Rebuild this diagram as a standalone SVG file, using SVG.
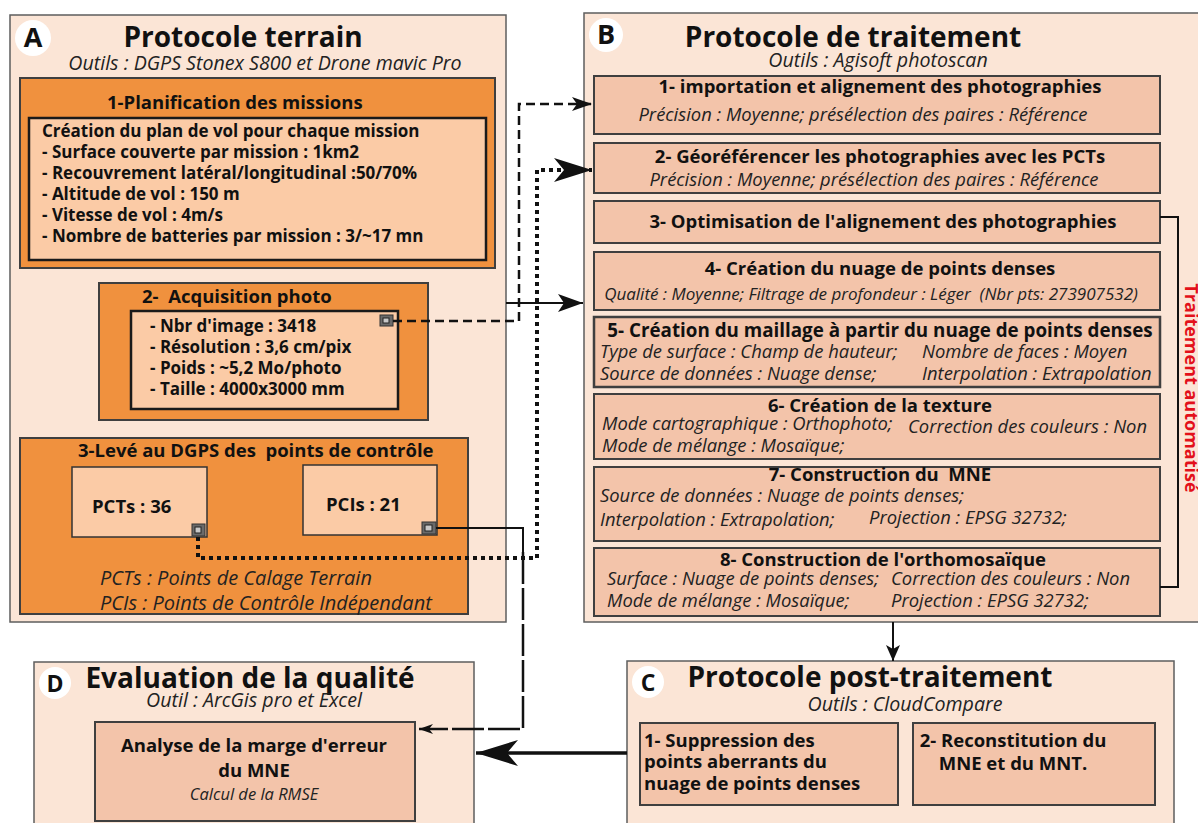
<svg xmlns="http://www.w3.org/2000/svg" width="1198" height="823" viewBox="0 0 1198 823">
<defs>
<style>
.panel{fill:#fbe5d6;stroke:#5e5e5e;stroke-width:1.5}
.orange{fill:#f0913e;stroke:#3f3f3f;stroke-width:2}
.light{fill:#fbcba6;stroke:#1a1a1a;stroke-width:2.5}
.step{fill:#f3c4aa;stroke:#3f3f3f;stroke-width:2}
.lbl{fill:#ffffff}
text{font-family:"Open Sans","Noto Sans",sans-serif;fill:#111}
.pt{font-size:28px;font-weight:bold}
.letter{font-size:27px;font-weight:bold}
.sub{font-size:19.6px;font-style:italic;fill:#222}
.note{font-size:20px;font-style:italic;fill:#222}
.bt{font-size:18.5px;font-weight:bold}
.bb{font-size:17px;font-weight:bold}
.st{font-size:18.5px;font-weight:bold}
.si{font-size:18.4px;font-style:italic;fill:#222}
.red{font-size:18px;font-weight:bold;fill:#e3101a}
.icon{fill:#6a6a6a;stroke:#333;stroke-width:1}
.iconin{fill:#c8c8c8;stroke:#222;stroke-width:1}
.c{fill:none;stroke:#111}
.dash{stroke-width:2.5;stroke-dasharray:9 5}
.dot{stroke-width:4;stroke-dasharray:4 4}
.solid{stroke-width:2}
.ldash{stroke-width:2.5;stroke-dasharray:32 4}
.thick{stroke-width:3.5}
</style>
<marker id="ahS" viewBox="0 0 20 14" refX="20" refY="7" markerWidth="20" markerHeight="14" markerUnits="userSpaceOnUse" orient="auto"><path d="M0,0 L20,7 L0,14 L5,7 z" fill="#111"/></marker>
<marker id="ahL" viewBox="0 0 38 24" refX="38" refY="12" markerWidth="38" markerHeight="24" markerUnits="userSpaceOnUse" orient="auto"><path d="M0,0 L38,12 L0,24 L10,12 z" fill="#111"/></marker>
<marker id="ahM" viewBox="0 0 25 18" refX="25" refY="9" markerWidth="25" markerHeight="18" markerUnits="userSpaceOnUse" orient="auto"><path d="M0,0 L25,9 L0,18 L6,9 z" fill="#111"/></marker>
<marker id="ahT" viewBox="0 0 14 10" refX="14" refY="5" markerWidth="14" markerHeight="10" markerUnits="userSpaceOnUse" orient="auto"><path d="M0,0 L14,5 L0,10 L4,5 z" fill="#111"/></marker>
<marker id="ahX" viewBox="0 0 42 26" refX="42" refY="13" markerWidth="42" markerHeight="26" markerUnits="userSpaceOnUse" orient="auto"><path d="M0,0 L42,13 L0,26 L11,13 z" fill="#111"/></marker>
<marker id="ahD" viewBox="0 0 16 14" refX="16" refY="7" markerWidth="16" markerHeight="14" markerUnits="userSpaceOnUse" orient="auto"><path d="M0,0 L16,7 L0,14 L4,7 z" fill="#111"/></marker>
</defs>

<!-- Panel A -->
<g id="panelA">
<rect class="panel" x="10" y="15" width="496" height="607"/>
<circle class="lbl" cx="33" cy="38" r="18"/>
<text class="letter" x="33" y="47" text-anchor="middle">A</text>
<text class="pt" x="243" y="47" text-anchor="middle">Protocole terrain</text>
<text class="sub" x="265" y="70" text-anchor="middle">Outils : DGPS Stonex S800 et Drone mavic Pro</text>
</g>

<g id="a1-planification">
<rect class="orange" x="20" y="78" width="475" height="190"/>
<text class="bt" x="107" y="109">1-Planification des missions</text>
<rect class="light" x="29" y="118" width="457" height="142"/>
<text class="bb" x="42" y="137">Création du plan de vol pour chaque mission</text>
<text class="bb" x="42" y="158">- Surface couverte par mission : 1km2</text>
<text class="bb" x="42" y="179">- Recouvrement latéral/longitudinal :50/70%</text>
<text class="bb" x="42" y="200">- Altitude de vol : 150 m</text>
<text class="bb" x="42" y="221">- Vitesse de vol : 4m/s</text>
<text class="bb" x="42" y="242">- Nombre de batteries par mission : 3/~17 mn</text>
</g>

<g id="a2-acquisition">
<rect class="orange" x="99" y="283" width="329" height="137"/>
<text class="bt" x="142" y="303" xml:space="preserve">2-  Acquisition photo</text>
<rect class="light" x="131" y="311" width="267" height="98"/>
<text class="bb" x="150" y="332">- Nbr d'image : 3418</text>
<text class="bb" x="150" y="353">- Résolution : 3,6 cm/pix</text>
<text class="bb" x="150" y="374">- Poids : ~5,2 Mo/photo</text>
<text class="bb" x="150" y="395">- Taille : 4000x3000 mm</text>
<rect class="icon" x="380" y="315" width="13" height="11"/>
<rect class="iconin" x="383" y="318" width="6" height="5"/>
</g>

<g id="a3-dgps">
<rect class="orange" x="20" y="438" width="448" height="176"/>
<text class="bt" x="78" y="457" xml:space="preserve">3-Levé au DGPS des  points de contrôle</text>
<text class="note" x="100" y="585">PCTs : Points de Calage Terrain</text>
<text class="note" x="100" y="610">PCIs : Points de Contrôle Indépendant</text>
</g>

<g id="a3-pcts">
<rect class="light" x="72" y="467" width="135" height="70" style="stroke-width:1.5;stroke:#333"/>
<text class="bt" x="92" y="513">PCTs : 36</text>
<rect class="icon" x="192" y="524" width="13" height="12"/>
<rect class="iconin" x="195" y="527" width="6" height="6"/>
</g>

<g id="a3-pcis">
<rect class="light" x="303" y="465" width="134" height="70" style="stroke-width:1.5;stroke:#333"/>
<text class="bt" x="326" y="511">PCIs : 21</text>
<rect class="icon" x="422" y="522" width="14" height="12"/>
<rect class="iconin" x="425" y="525" width="7" height="6"/>
</g>

<!-- Panel B -->
<g id="panelB">
<rect class="panel" x="584" y="13" width="620" height="609"/>
<circle class="lbl" cx="606" cy="35" r="17"/>
<text class="letter" x="606" y="44" text-anchor="middle">B</text>
<text class="pt" x="853" y="47" text-anchor="middle">Protocole de traitement</text>
<text class="sub" x="878" y="67" text-anchor="middle">Outils : Agisoft photoscan</text>
<text class="red" transform="translate(1185,388) rotate(90)" text-anchor="middle">Traitement automatisé</text>
</g>

<g id="b1">
<rect class="step" x="594" y="76" width="566" height="58"/>
<text class="st" x="880" y="93" text-anchor="middle">1- importation et alignement des photographies</text>
<text class="si" x="863" y="121" text-anchor="middle">Précision : Moyenne; présélection des paires : Référence</text>
</g>
<g id="b2">
<rect class="step" x="594" y="143" width="566" height="50"/>
<text class="st" x="880" y="163" text-anchor="middle">2- Géoréférencer les photographies avec les PCTs</text>
<text class="si" x="874" y="186" text-anchor="middle">Précision : Moyenne; présélection des paires : Référence</text>
</g>
<g id="b3">
<rect class="step" x="594" y="201" width="566" height="42"/>
<text class="st" x="883" y="228" text-anchor="middle">3- Optimisation de l'alignement des photographies</text>
</g>
<g id="b4">
<rect class="step" x="594" y="252" width="566" height="58"/>
<text class="st" x="880" y="275" text-anchor="middle">4- Création du nuage de points denses</text>
<text class="si" x="871" y="300" text-anchor="middle" xml:space="preserve" style="font-size:17px">Qualité : Moyenne; Filtrage de profondeur : Léger  (Nbr pts: 273907532)</text>
</g>
<g id="b5">
<rect class="step" x="594" y="317" width="566" height="70" style="stroke-width:2.5"/>
<text class="st" x="880" y="337" text-anchor="middle" style="font-size:18.8px">5- Création du maillage à partir du nuage de points denses</text>
<text class="si" x="600" y="358">Type de surface : Champ de hauteur;</text>
<text class="si" x="922" y="358">Nombre de faces : Moyen</text>
<text class="si" x="600" y="380">Source de données : Nuage dense;</text>
<text class="si" x="922" y="380">Interpolation : Extrapolation</text>
</g>
<g id="b6">
<rect class="step" x="594" y="394" width="566" height="65"/>
<text class="st" x="880" y="412" text-anchor="middle">6- Création de la texture</text>
<text class="si" x="602" y="430">Mode cartographique : Orthophoto;</text>
<text class="si" x="908" y="433">Correction des couleurs : Non</text>
<text class="si" x="602" y="452">Mode de mélange : Mosaïque;</text>
</g>
<g id="b7">
<rect class="step" x="594" y="467" width="566" height="74"/>
<text class="st" x="880" y="481" text-anchor="middle" xml:space="preserve">7- Construction du  MNE</text>
<text class="si" x="600" y="502">Source de données : Nuage de points denses;</text>
<text class="si" x="600" y="526">Interpolation : Extrapolation;</text>
<text class="si" x="869" y="524">Projection : EPSG 32732;</text>
</g>
<g id="b8">
<rect class="step" x="594" y="548" width="566" height="68"/>
<text class="st" x="883" y="566" text-anchor="middle">8- Construction de l'orthomosaïque</text>
<text class="si" x="607" y="585">Surface : Nuage de points denses;</text>
<text class="si" x="891" y="585">Correction des couleurs : Non</text>
<text class="si" x="607" y="607">Mode de mélange : Mosaïque;</text>
<text class="si" x="891" y="607">Projection : EPSG 32732;</text>
</g>

<!-- Panel C -->
<g id="panelC">
<rect class="panel" x="627" y="661" width="547" height="170"/>
<circle class="lbl" cx="648" cy="682" r="16"/>
<text class="letter" x="648" y="691" text-anchor="middle" style="font-size:23px">C</text>
<text class="pt" x="870" y="687" text-anchor="middle">Protocole post-traitement</text>
<text class="sub" x="905" y="711" text-anchor="middle">Outils : CloudCompare</text>
</g>
<g id="c1">
<rect class="step" x="640" y="723" width="258" height="82"/>
<text class="bt" x="644" y="747">1- Suppression des</text>
<text class="bt" x="644" y="768">points aberrants du</text>
<text class="bt" x="644" y="790">nuage de points denses</text>
</g>
<g id="c2">
<rect class="step" x="913" y="723" width="242" height="82"/>
<text class="bt" x="1013" y="747" text-anchor="middle">2- Reconstitution du</text>
<text class="bt" x="1013" y="770" text-anchor="middle">MNE et du MNT.</text>
</g>

<!-- Panel D -->
<g id="panelD">
<rect class="panel" x="34" y="662" width="440" height="170"/>
<circle class="lbl" cx="55" cy="683" r="16"/>
<text class="letter" x="55" y="692" text-anchor="middle" style="font-size:23px">D</text>
<text class="pt" x="250" y="688" text-anchor="middle">Evaluation de la qualité</text>
<text class="sub" x="254" y="707" text-anchor="middle">Outil : ArcGis pro et Excel</text>
</g>
<g id="d1">
<rect class="step" x="95" y="722" width="320" height="99"/>
<text class="bt" x="254" y="752" text-anchor="middle">Analyse de la marge d'erreur</text>
<text class="bt" x="254" y="777" text-anchor="middle">du MNE</text>
<text class="si" x="254" y="800" text-anchor="middle" style="font-size:16.5px">Calcul de la RMSE</text>
</g>

<!-- Connectors -->
<g id="connectors">
<path class="c dash" d="M393,321 H519 V104 H592" marker-end="url(#ahS)"/>
<path class="c dot" d="M198,537 V558 H537 V170 H592" marker-end="url(#ahL)"/>
<path class="c solid" d="M506,303 H583" marker-end="url(#ahM)"/>
<path class="c solid" d="M436,528 H523 V552"/>
<path class="c ldash" d="M523,552 V729 H419" marker-end="url(#ahT)"/>
<path class="c thick" d="M627,753 H476" marker-end="url(#ahX)"/>
<path class="c solid" d="M893,622 V661" marker-end="url(#ahD)"/>
<path class="c solid" d="M1160,217 H1178 V587 H1160"/>
</g>
</svg>
